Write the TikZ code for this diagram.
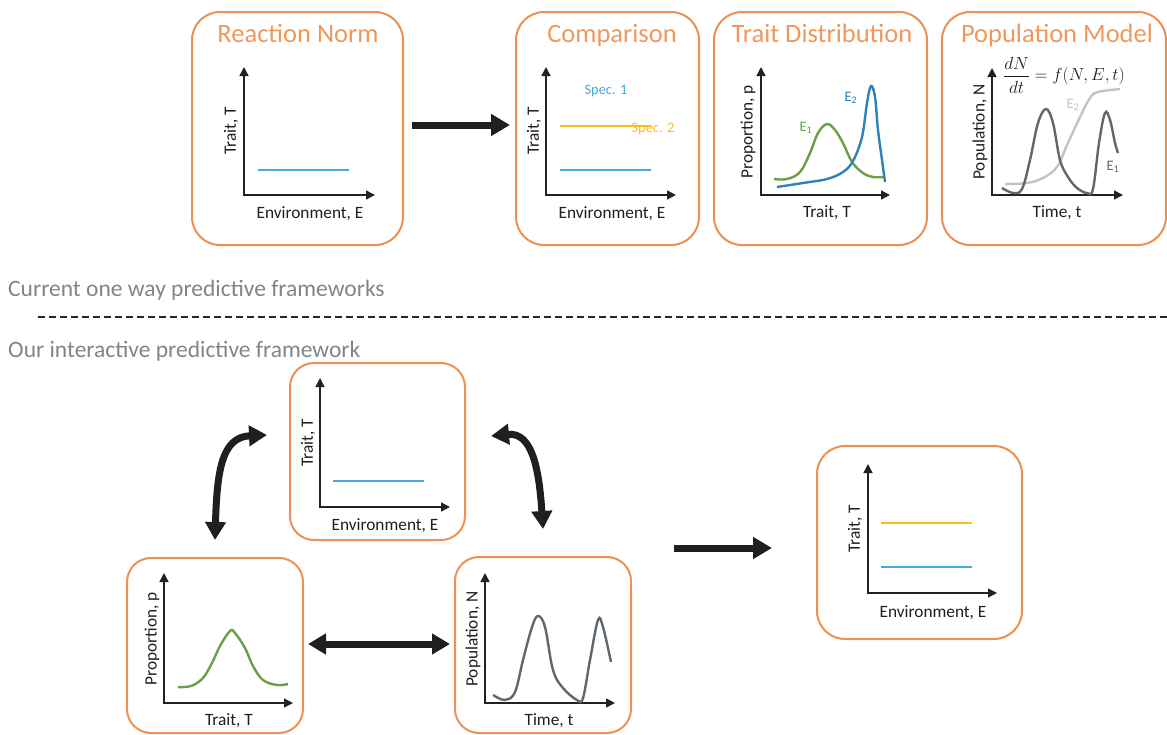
\documentclass[tikz,border=0pt]{standalone}
\usepackage{fix-cm}
\usepackage{fontspec}
\setmainfont{Carlito}
\usetikzlibrary{arrows.meta}
\definecolor{boxor}{RGB}{237,145,82}
\definecolor{titleor}{RGB}{238,152,92}
\definecolor{lblue}{RGB}{72,168,224}
\definecolor{dblue}{RGB}{46,130,184}
\definecolor{gold}{RGB}{246,190,30}
\definecolor{lgreen}{RGB}{106,158,72}
\definecolor{dgray}{RGB}{95,104,110}
\definecolor{lgray}{RGB}{192,196,200}
\definecolor{secgray}{RGB}{125,134,140}
\definecolor{axcol}{RGB}{34,34,34}
\definecolor{txt}{RGB}{30,30,30}
\begin{document}
\begin{tikzpicture}[x=1pt,y=-1pt,
  panel/.style={draw=boxor,line width=2pt,rounded corners=28pt,inner sep=0pt},
  bpanel/.style={draw=boxor,line width=2pt,rounded corners=24pt,inner sep=0pt},
  ptitle/.style={text=titleor,font=\fontsize{26.5}{30}\selectfont,anchor=base,inner sep=0pt},
  alabel/.style={text=txt,font=\fontsize{17.3}{20}\selectfont,inner sep=0pt},
  xlab/.style={alabel,anchor=base},
  ylab/.style={alabel,rotate=90,anchor=center},
  axis/.style={line width=1.5pt,draw=axcol,{Triangle[length=9pt,width=9pt]}-{Triangle[length=9pt,width=9pt]}},
  dline/.style={line width=2.4pt},
  small/.style={font=\fontsize{14.5}{16}\selectfont,inner sep=0pt},
  fat/.style={line width=7pt,draw=black!88,-{Triangle[length=19pt,width=21pt]}},
  fatdbl/.style={line width=7pt,draw=black!88,{Triangle[length=18pt,width=20pt]}-{Triangle[length=18pt,width=20pt]}},
  sect/.style={text=secgray,font=\fontsize{23.5}{27}\selectfont,anchor=base west,inner sep=0pt}
]
\useasboundingbox (0,0) rectangle (1167,734);

% ---------- top row panels ----------
\node[panel,minimum width=211pt,minimum height=233pt] (p1) at (297.5,128.5) {};
\node[panel,minimum width=183pt,minimum height=233pt] (p2) at (607.5,128.5) {};
\node[panel,minimum width=213pt,minimum height=233pt] (p3) at (820.5,128.5) {};
\node[panel,minimum width=224pt,minimum height=233pt] (p4) at (1054,128.5) {};

\node[ptitle] (t1) at (298,42) {Reaction Norm};
\node[ptitle] (t2) at (612,42) {Comparison};
\node[ptitle] (t3) at (822,42) {Trait Distribution};
\node[ptitle] (t4) at (1057,42) {Population Model};

% panel 1
\draw[axis] (244,67) |- (375,195);
\draw[dline,lblue] (258,170) -- (349,170);
\node[ylab] (y1) at (231,131) {Trait, T};
\node[xlab] (x1) at (310,218) {Environment, E};

% panel 2
\draw[axis] (546,67) |- (676,195);
\draw[dline,gold] (560,126) -- (651,126);
\draw[dline,lblue] (560,170) -- (651,170);
\node[small,text=lblue] (s1) at (606,91) {Spec. 1};
\node[small,text=gold] (s2) at (653,129) {Spec. 2};
\node[ylab] (y2) at (534,131) {Trait, T};
\node[xlab] (x2) at (612,218) {Environment, E};

% panel 3
\draw[axis] (761,67) |- (890,195);
\draw[dline,lgreen] plot[smooth,tension=0.6] coordinates {(774,179) (787,179) (800,172) (810,153) (818,133) (827,124) (835,130) (843,143) (852,162) (863,173) (873,177) (883,177)};
\draw[dline,dblue] plot[smooth,tension=0.6] coordinates {(777,187) (803,183) (827,179) (843,172) (853,161) (862,137) (867,103) (871,86) (875,97) (878,130) (882,160) (885,182)};
\node[small,text=lgreen] (e1a) at (806,128) {E\textsubscript{1}};
\node[small,text=dblue] (e2a) at (851,98) {E\textsubscript{2}};
\node[ylab] (y3) at (748,132) {Proportion, p};
\node[xlab] (x3) at (827,217) {Trait, T};

% panel 4
\draw[axis] (992,68) |- (1123,195);
\draw[dline,lgray] plot[smooth,tension=0.6] coordinates {(1005,184) (1027,183) (1043,178) (1057,167) (1067,145) (1080,117) (1090,98) (1098,92) (1120,89)};
\draw[dline,dgray] plot[smooth,tension=0.6] coordinates {(1002,188) (1013,193) (1022,189) (1030,160) (1038,123) (1046,109) (1053,123) (1060,160) (1068,177) (1077,188) (1087,193) (1093,189) (1099,143) (1105,113) (1110,120) (1115,143) (1118,153)};
\node[small,text=lgray] (e2b) at (1073,105) {E\textsubscript{2}};
\node[small,text=dgray] (e1b) at (1113,167) {E\textsubscript{1}};
\node[inner sep=0pt,text=txt,font=\fontsize{17.5}{20}\selectfont] (eq) at (1064,75) {$\displaystyle\frac{dN}{dt}=f(N,E,t)$};
\node[ylab] (y4) at (980,132) {Population, N};
\node[xlab] (x4) at (1057,217) {Time, t};

% top arrow
\coordinate (ta1) at (412,125);
\coordinate (ta2) at (510,125);
\draw[fat] (ta1) -- (ta2);

% ---------- separator ----------
\node[sect] (cur) at (8,296) {Current one way predictive frameworks};
\coordinate (d1) at (38,317);
\coordinate (d2) at (1167,317);
\draw[line width=1.4pt,black!85,dash pattern=on 7pt off 4pt] (d1) -- (d2);
\node[sect] (our) at (8,357) {Our interactive predictive framework};

% ---------- bottom panels ----------
\node[bpanel,minimum width=175pt,minimum height=177pt] (q1) at (377.5,451.5) {};
\node[bpanel,minimum width=176pt,minimum height=175pt] (q2) at (215,645.5) {};
\node[bpanel,minimum width=176pt,minimum height=176pt] (q3) at (543,645) {};
\node[panel,minimum width=205pt,minimum height=193pt] (q4) at (919.5,542.5) {};

% q1
\draw[axis] (320,378) |- (450,507);
\draw[dline,lblue] (333,481) -- (424,481);
\node[ylab] (y5) at (308,443) {Trait, T};
\node[xlab] (x5) at (385,530) {Environment, E};

% q2
\draw[axis] (164,573) |- (293,703);
\draw[dline,lgreen] plot[smooth,tension=0.6] coordinates {(178,687) (191,686) (203,678) (212,663) (220,646) (230,631) (235,633) (245,648) (253,666) (263,680) (277,685) (288,684)};
\node[ylab] (y6) at (152,639) {Proportion, p};
\node[xlab] (x6) at (229,725) {Trait, T};

% q3
\draw[axis] (485,573) |- (615,703);
\draw[dline,dgray] plot[smooth,tension=0.6] coordinates {(493,695) (505,700) (515,692) (523,660) (532,627) (538,616) (545,627) (553,670) (563,688) (577,700) (583,698) (590,660) (598,620) (603,627) (611,662)};
\node[ylab] (y7) at (473,639) {Population, N};
\node[xlab] (x7) at (549,725) {Time, t};

% q4
\draw[axis] (868,464) |- (997,593);
\draw[dline,gold] (881,523) -- (972,523);
\draw[dline,lblue] (881,567) -- (972,567);
\node[ylab] (y8) at (855,529) {Trait, T};
\node[xlab] (x8) at (933,617) {Environment, E};

% ---------- bottom arrows ----------
\coordinate (la1) at (215,540);
\coordinate (la2) at (267,435);
\draw[fatdbl] (la1) .. controls (217,470) and (222,437) .. (la2);
\coordinate (ra1) at (491,436);
\coordinate (ra2) at (543,529);
\draw[fatdbl] (ra1) .. controls (532,432) and (539,468) .. (ra2);
\coordinate (ha1) at (308,644);
\coordinate (ha2) at (450,644);
\draw[fatdbl] (ha1) -- (ha2);
\coordinate (ma1) at (674,548);
\coordinate (ma2) at (772,548);
\draw[fat] (ma1) -- (ma2);
\end{tikzpicture}
\end{document}
